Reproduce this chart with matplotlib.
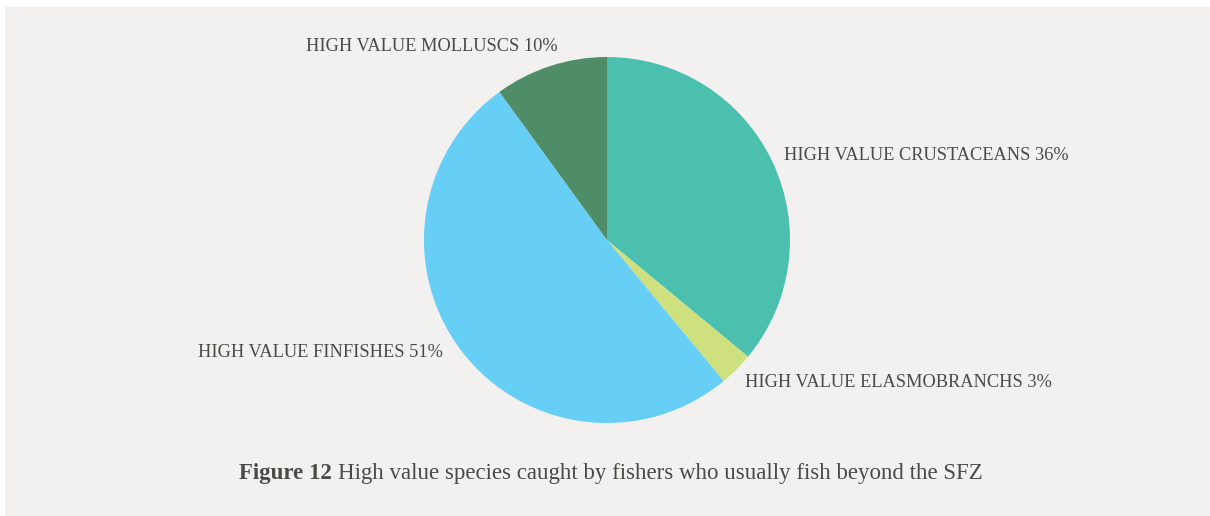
import matplotlib
matplotlib.use("Agg")
import matplotlib.pyplot as plt
from matplotlib.patches import Rectangle

# Share of high value species caught beyond the SFZ
categories = ["HIGH VALUE CRUSTACEANS", "HIGH VALUE ELASMOBRANCHS",
              "HIGH VALUE FINFISHES", "HIGH VALUE MOLLUSCS"]
shares = [36, 3, 51, 10]
colors = ["#4BC0AF", "#CFE07E", "#67CEF6", "#4E8D68"]

W, H = 1210, 516
fig = plt.figure(figsize=(W / 100, H / 100), dpi=100, facecolor="white")

# Panel background
fig.patches.append(Rectangle((5 / W, -0.02), 1.02 - 5 / W, 1.02 - 7 / H,
                             transform=fig.transFigure, facecolor="#F2F1EF",
                             edgecolor="none", zorder=-10))

cx, cy, r = 607, 240, 183
ax = fig.add_axes([(cx - r) / W, (H - cy - r) / H, 2 * r / W, 2 * r / H])
ax.set_facecolor("none")
ax.set_zorder(1)
wedges, _ = ax.pie(shares, colors=colors, startangle=90, counterclock=False,
                   radius=1, wedgeprops=dict(linewidth=0))
ax.set_xlim(-1, 1)
ax.set_ylim(-1, 1)
ax.set_aspect("equal")
ax.axis("off")

text_color = "#4A4B45"
font = ["Liberation Serif", "DejaVu Serif"]
# label anchor points (in pie-radius units) and alignment
label_pos = [(0.967, 0.464, "left"), (0.754, -0.781, "left"),
             (-0.896, -0.617, "right"), (-0.268, 1.055, "right")]
for cat, val, (x, y, ha) in zip(categories, shares, label_pos):
    ax.text(x, y, f"{cat} {val}%", ha=ha, va="center", fontsize=13.2,
            color=text_color, family=font, clip_on=False)

cap_y = 1 - 473 / H
t1 = fig.text(239 / W, cap_y, "Figure 12", ha="left", va="center",
              fontsize=16.5, fontweight="bold", color=text_color, family=font)
fig.canvas.draw()
bb = t1.get_window_extent()
fig.text((bb.x1 + 6) / W, cap_y,
         "High value species caught by fishers who usually fish beyond the SFZ",
         ha="left", va="center", fontsize=16.5, color=text_color, family=font)

fig.savefig("out.png", dpi=100, facecolor="white")
